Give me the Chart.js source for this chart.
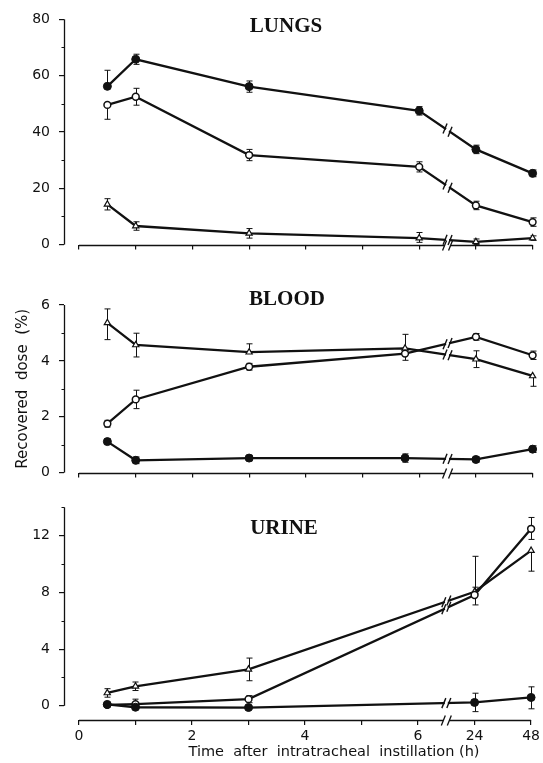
<!DOCTYPE html>
<html>
<head>
<meta charset="utf-8">
<script src="https://cdn.jsdelivr.net/npm/chart.js@4.4.1/dist/chart.umd.min.js"></script>
<style>
  html, body { margin: 0; padding: 0; background: #fff; }
  #wrap { position: relative; width: 543px; height: 763px; overflow: hidden; }
</style>
</head>
<body>
<div id="wrap"></div>
<script>
// sampling times (h)
const lungsTimes = [0.5, 1, 3, 6, 24, 48];
const bloodTimes = [0.5, 1, 3, 5.75, 24, 48];
const urineTimes = [0.5, 1, 3, 24, 48];

// recovered dose (%) - filled circles, open circles, open triangles
const lungsFilled = [56.2, 65.8, 56.1, 47.5, 33.8, 25.3];
const lungsOpen   = [49.6, 52.5, 31.8, 27.6, 13.9, 8.0];
const lungsTri    = [14.3, 6.6, 4.0, 2.3, 1.0, 2.3];
// error bars as [down, up]
const lungsFilledErr = [[0, 5.7], [1.8, 1.8], [2, 2], [1.5, 1.5], [1.5, 1.5], [1.2, 1.2]];
const lungsOpenErr   = [[5.1, 0], [3, 3], [2, 2], [1.8, 1.8], [1.5, 1.5], [1.5, 1.5]];
const lungsTriErr    = [[2, 2], [1.5, 1.5], [1.7, 1.7], [1.5, 2], [1, 1], [0.8, 0.8]];

const bloodFilled = [1.11, 0.44, 0.52, 0.52, 0.47, 0.84];
const bloodOpen   = [1.75, 2.62, 3.79, 4.26, 4.86, 4.2];
const bloodTri    = [5.36, 4.57, 4.31, 4.45, 4.06, 3.46];
const bloodFilledErr = [[0.1, 0.1], [0.12, 0.12], [0.1, 0.1], [0.15, 0.15], [0.1, 0.1], [0.12, 0.12]];
const bloodOpenErr   = [[0.12, 0.12], [0.33, 0.33], [0.12, 0.12], [0.24, 0], [0.12, 0.12], [0.15, 0.15]];
const bloodTriErr    = [[0.6, 0.5], [0.43, 0.42], [0, 0.3], [0, 0.5], [0.3, 0.3], [0.37, 0]];

const urineFilled = [0.1, -0.1, -0.12, 0.24, 0.59];
const urineOpen   = [0.07, 0.12, 0.47, 7.82, 12.49];
const urineTri    = [0.91, 1.38, 2.57, 8.05, 10.95];
const urineFilledErr = [[0.1, 0.1], [0.1, 0.1], [0.1, 0.1], [0.65, 0.65], [0.8, 0.75]];
const urineOpenErr   = [[0.1, 0.1], [0.3, 0.35], [0.25, 0.25], [0.7, 0.55], [0.75, 0.8]];
const urineTriErr    = [[0.3, 0.3], [0.3, 0.3], [0.8, 0.8], [0, 2.5], [1.45, 0]];

// axis ticks
const xTickHours  = [0, 1, 2, 3, 4, 5, 6, 24, 48];
const xTickLabels = ['0', '', '2', '', '4', '', '6', '24', '48'];
const lungsTicks = [0, 20, 40, 60, 80], lungsMinor = [10, 30, 50, 70];
const bloodTicks = [0, 2, 4, 6],        bloodMinor = [1, 3, 5];
const urineTicks = [0, 4, 8, 12],       urineMinor = [2, 6, 10, 14];

// broken time axis: 0-6.5 h linear, then 24 h and 48 h one unit apart
const BREAK = 6.5;
function pos(t) {
  if (t <= BREAK) return t;
  if (t <= 24) return BREAK + (t - BREAK) / (24 - BREAK) * 0.5;
  return 7 + (t - 24) / 24;
}

const INK = '#111';
const tickFont = { family: 'DejaVu Sans', size: 14 };

const styles = {
  filled: { pointStyle: 'circle', pointRadius: 4, pointBackgroundColor: INK, pointBorderColor: INK, pointBorderWidth: 1 },
  open:   { pointStyle: 'circle', pointRadius: 3.4, pointBackgroundColor: '#fff', pointBorderColor: INK, pointBorderWidth: 1.5 },
  tri:    { pointStyle: 'triangle', pointRadius: 3.6, pointBackgroundColor: '#fff', pointBorderColor: INK, pointBorderWidth: 1.2 }
};

function series(times, vals, err, kind) {
  return Object.assign({
    data: times.map((t, i) => ({ x: pos(t), y: vals[i] })),
    err: err,
    borderColor: INK, borderWidth: 2.3, tension: 0, fill: false, clip: false,
    pointHoverRadius: 0
  }, styles[kind]);
}

function slash(ctx, cx, cy) {
  ctx.beginPath();
  ctx.moveTo(cx - 2, cy + 5);
  ctx.lineTo(cx + 2, cy - 5);
  ctx.stroke();
}

// error bars, axis lines with breaks, minor ticks and panel text
const decor = {
  id: 'decor',
  beforeDatasetsDraw(chart) {
    const ctx = chart.ctx, ys = chart.scales.y;
    ctx.save();
    ctx.strokeStyle = INK;
    ctx.lineWidth = 1;
    chart.data.datasets.forEach((ds, di) => {
      chart.getDatasetMeta(di).data.forEach((pt, i) => {
        const e = ds.err[i], v = ds.data[i].y;
        const px = Math.round(pt.x) + 0.5;
        const top = ys.getPixelForValue(v + e[1]);
        const bot = ys.getPixelForValue(v - e[0]);
        ctx.beginPath();
        ctx.moveTo(px, top); ctx.lineTo(px, bot);
        if (e[1]) { ctx.moveTo(px - 3, top); ctx.lineTo(px + 3, top); }
        if (e[0]) { ctx.moveTo(px - 3, bot); ctx.lineTo(px + 3, bot); }
        ctx.stroke();
      });
    });
    ctx.restore();
  },
  afterDatasetsDraw(chart, args, o) {
    const ctx = chart.ctx, xs = chart.scales.x, ys = chart.scales.y, area = chart.chartArea;
    const bx = xs.getPixelForValue(BREAK);
    ctx.save();

    // "//" marks where each line crosses the break
    chart.data.datasets.forEach((ds, di) => {
      const pts = chart.getDatasetMeta(di).data;
      for (let i = 0; i < ds.data.length - 1; i++) {
        if (ds.data[i].x < BREAK && ds.data[i + 1].x > BREAK) {
          const p0 = pts[i], p1 = pts[i + 1];
          const k = (p1.y - p0.y) / (p1.x - p0.x);
          const by = p0.y + (bx - p0.x) * k;
          ctx.strokeStyle = '#fff'; ctx.lineWidth = 4;
          ctx.beginPath(); ctx.moveTo(bx - 1.5, by - 1.5 * k); ctx.lineTo(bx + 1.5, by + 1.5 * k); ctx.stroke();
          ctx.strokeStyle = INK; ctx.lineWidth = 1.4;
          slash(ctx, bx - 2.5, by - 2.5 * k);
          slash(ctx, bx + 2.5, by + 2.5 * k);
        }
      }
    });

    ctx.strokeStyle = INK;
    ctx.lineWidth = 1.3;
    // x axis line with break
    const ay = Math.round(area.bottom) + 0.5;
    ctx.beginPath();
    ctx.moveTo(xs.getPixelForValue(0), ay); ctx.lineTo(bx - 3, ay);
    ctx.moveTo(bx + 3, ay); ctx.lineTo(xs.getPixelForValue(8), ay);
    ctx.stroke();
    slash(ctx, bx - 3, ay);
    slash(ctx, bx + 3, ay);

    // y axis line
    const ax = Math.round(area.left) + 0.5;
    ctx.beginPath();
    ctx.moveTo(ax, ys.getPixelForValue(0));
    ctx.lineTo(ax, ys.getPixelForValue(ys.max));
    ctx.stroke();

    // minor y ticks
    ctx.lineWidth = 1;
    o.minor.forEach(v => {
      const py = Math.round(ys.getPixelForValue(v)) + 0.5;
      ctx.beginPath(); ctx.moveTo(ax - 3, py); ctx.lineTo(ax, py); ctx.stroke();
    });

    // panel name
    ctx.fillStyle = INK;
    ctx.font = 'bold 21px "Liberation Serif"';
    ctx.textAlign = 'center';
    ctx.textBaseline = 'middle';
    ctx.fillText(o.title, o.titleX, o.titleY);

    if (o.xTitle) {
      ctx.font = '14.5px "DejaVu Sans"';
      ctx.textBaseline = 'alphabetic';
      ctx.fillText(o.xTitle, o.xTitleX, o.xTitleY);
    }
    ctx.restore();
  }
};

function makePanel(p) {
  const box = document.createElement('div');
  box.style.cssText = 'position:absolute;left:0;top:' + p.top + 'px;width:543px;height:' + p.height + 'px';
  const cv = document.createElement('canvas');
  box.appendChild(cv);
  document.getElementById('wrap').appendChild(box);

  return new Chart(cv.getContext('2d'), {
    type: 'line',
    data: { datasets: p.sets },
    plugins: [decor],
    options: {
      responsive: true,
      maintainAspectRatio: false,
      animation: false,
      events: [],
      layout: { padding: { top: p.areaTop, right: 10.4, left: 0, bottom: 0 } },
      plugins: {
        legend: { display: false },
        tooltip: { enabled: false },
        decor: {
          minor: p.minor, title: p.title, titleX: p.titleX, titleY: p.titleY,
          xTitle: p.xTitle, xTitleX: 334, xTitleY: p.xTitleY
        }
      },
      scales: {
        x: {
          type: 'linear', min: -0.265, max: 8,
          afterBuildTicks: s => { s.ticks = xTickHours.map(h => ({ value: pos(h) })); },
          afterFit: s => { s.height = p.xHeight; },
          ticks: {
            display: p.showXLabels, autoSkip: false, maxRotation: 0, padding: 3,
            color: INK, font: tickFont,
            callback: (v, i) => xTickLabels[i]
          },
          grid: { drawOnChartArea: false, drawTicks: true, tickLength: 5, color: INK, lineWidth: 1.2 },
          border: { display: false }
        },
        y: {
          min: p.yMin, max: p.yMax,
          afterBuildTicks: s => { s.ticks = p.ticks.map(v => ({ value: v })); },
          afterFit: s => { s.width = 64; },
          ticks: { padding: 9, color: INK, font: tickFont },
          grid: { drawOnChartArea: false, drawTicks: true, tickLength: 5, color: INK, lineWidth: 1.2 },
          border: { display: false },
          title: {
            display: !!p.yTitle, text: p.yTitle || '', color: INK,
            font: { family: 'DejaVu Sans', size: 15 }, padding: { top: 14, bottom: 0 }
          }
        }
      }
    }
  });
}

makePanel({
  top: 0, height: 262, areaTop: 19.3, xHeight: 13.7,
  yMin: 0, yMax: 80, ticks: lungsTicks, minor: lungsMinor,
  title: 'LUNGS', titleX: 286, titleY: 27,
  showXLabels: false,
  sets: [
    series(lungsTimes, lungsFilled, lungsFilledErr, 'filled'),
    series(lungsTimes, lungsOpen, lungsOpenErr, 'open'),
    series(lungsTimes, lungsTri, lungsTriErr, 'tri')
  ]
});

makePanel({
  top: 262, height: 228, areaTop: 43, xHeight: 13.3,
  yMin: 0, yMax: 6, ticks: bloodTicks, minor: bloodMinor,
  title: 'BLOOD', titleX: 287, titleY: 38,
  yTitle: 'Recovered  dose  (%)',
  showXLabels: false,
  sets: [
    series(bloodTimes, bloodFilled, bloodFilledErr, 'filled'),
    series(bloodTimes, bloodOpen, bloodOpenErr, 'open'),
    series(bloodTimes, bloodTri, bloodTriErr, 'tri')
  ]
});

makePanel({
  top: 490, height: 273, areaTop: 16, xHeight: 43,
  yMin: -1, yMax: 14, ticks: urineTicks, minor: urineMinor,
  title: 'URINE', titleX: 284, titleY: 38.5,
  showXLabels: true,
  xTitle: 'Time  after  intratracheal  instillation (h)', xTitleY: 266,
  sets: [
    series(urineTimes, urineFilled, urineFilledErr, 'filled'),
    series(urineTimes, urineOpen, urineOpenErr, 'open'),
    series(urineTimes, urineTri, urineTriErr, 'tri')
  ]
});
</script>
</body>
</html>
